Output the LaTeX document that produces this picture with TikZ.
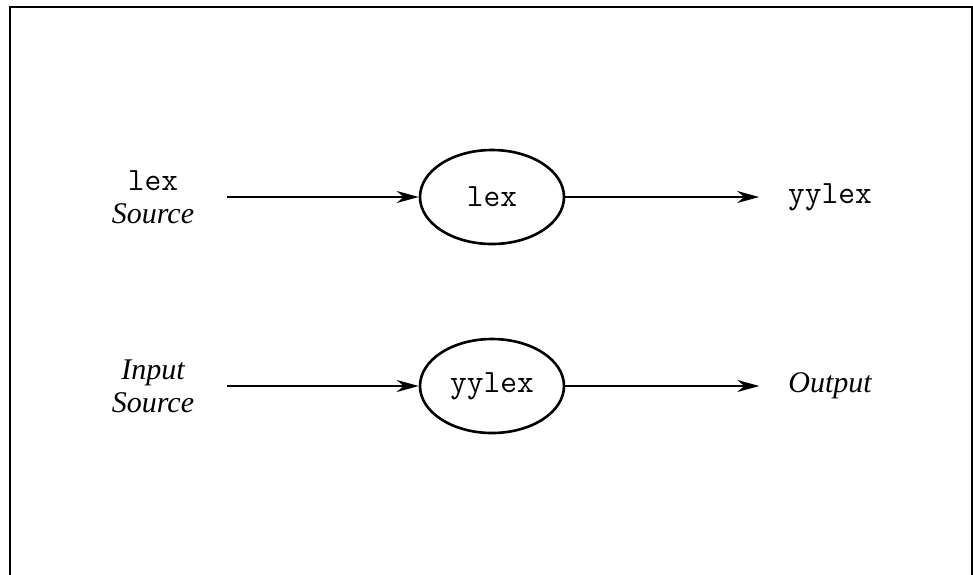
\documentclass[tikz,border=0pt]{standalone}
\usepackage{fontspec}
\setmainfont{Liberation Serif}
\usetikzlibrary{shapes.geometric,arrows.meta}
\newcommand{\monofont}{\fontsize{32.5}{33}\selectfont\ttfamily}
\newcommand{\italfont}{\fontsize{30}{33}\selectfont\itshape}
\tikzset{
  proc/.style={draw, line width=2.6pt, ellipse, minimum width=144pt, minimum height=94pt, inner sep=0pt, font=\monofont},
  srclabel/.style={align=center, inner sep=0pt, outer xsep=33pt, font=\fontsize{30}{33}\selectfont},
  outlabel/.style={inner sep=0pt, outer xsep=29pt},
  flow/.style={line width=2.2pt, -{Stealth[length=22pt, width=12pt, inset=7pt]}},
  frame/.style={line width=2pt}
}
\begin{document}
\begin{tikzpicture}[x=1pt, y=-1pt]
\useasboundingbox (0,0) rectangle (973,574);
\draw[frame] (10,580) -- (10,7) -- (972,7) -- (972,580);
% row 1
\node[srclabel] (src1) at (153,197) {\monofont lex\\\italfont Source};
\node[proc] (lexp) at (492,197) {lex};
\node[outlabel, font=\monofont] (out1) at (830,197) {yylex};
\draw[flow] (src1) -- (lexp);
\draw[flow] (lexp) -- (out1);
% row 2
\node[srclabel, font=\italfont] (src2) at (153,386) {Input\\Source};
\node[proc] (yyp) at (492,386) {yylex};
\node[outlabel, font=\italfont] (out2) at (830,386) {Output};
\draw[flow] (src2) -- (yyp);
\draw[flow] (yyp) -- (out2);
\end{tikzpicture}
\end{document}
